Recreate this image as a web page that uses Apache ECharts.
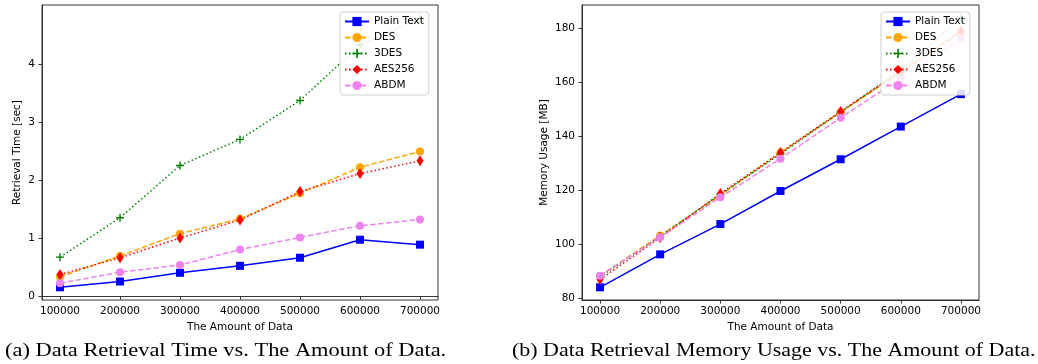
<!DOCTYPE html>
<html>
<head>
<meta charset="utf-8">
<script src="https://cdn.jsdelivr.net/npm/echarts@6/dist/echarts.min.js"></script>
<style>
html,body{margin:0;padding:0;background:#fff;}
#c{width:1038px;height:364px;}
</style>
</head>
<body>
<div id="c"></div>
<script>
// ---- data ----
const amounts = [100000, 200000, 300000, 400000, 500000, 600000, 700000];
const seriesNames = ['Plain Text', 'DES', '3DES', 'AES256', 'ABDM'];
const xTicks = [100000, 200000, 300000, 400000, 500000, 600000, 700000];

// (a) Retrieval time [sec]
const timePlain  = [0.15, 0.25, 0.40, 0.52, 0.66, 0.97, 0.885];
const timeDES    = [0.33, 0.69, 1.075, 1.33, 1.77, 2.22, 2.49];
const time3DES   = [0.67, 1.35, 2.25, 2.70, 3.37, 4.33, 4.78];
const timeAES    = [0.37, 0.66, 1.00, 1.31, 1.80, 2.11, 2.33];
const timeABDM   = [0.22, 0.41, 0.535, 0.80, 1.01, 1.21, 1.32];
const timeTicks  = [0, 1, 2, 3, 4];

// (b) Memory usage [MB]
const memPlain = [84.1, 96.3, 107.5, 119.75, 131.5, 143.6, 155.6];
const memDES   = [88.3, 103.3, 118.1, 134.0, 148.9, 163.7, 178.5];
const mem3DES  = [88.0, 103.0, 118.5, 133.5, 149.0, 164.5, 183.7];
const memAES   = [87.0, 102.5, 118.8, 134.0, 149.2, 164.0, 179.0];
const memABDM  = [88.4, 102.6, 117.4, 131.7, 146.9, 161.5, 176.0];
const memTicks = [80, 100, 120, 140, 160, 180];

const captionA = '(a) Data Retrieval Time vs. The Amount of Data.';
const captionB = '(b) Data Retrieval Memory Usage vs. The Amount of Data.';

// ---- styles ----
const styles = {
  'Plain Text': {color: '#0000ff', type: 'solid',  symbol: 'rect',    size: 8},
  'DES':        {color: '#ffa500', type: [5.5, 2.4], symbol: 'circle', size: 8},
  '3DES':       {color: '#008000', type: [1.5, 2.5], symbol: 'path://M3.3 0H4.7V3.3H8V4.7H4.7V8H3.3V4.7H0V3.3H3.3Z', size: 8},
  'AES256':     {color: '#ff0000', type: [1.5, 2.5], symbol: 'diamond', size: [7, 11]},
  'ABDM':       {color: '#ee82ee', type: [5.5, 2.4], symbol: 'circle',  size: 8}
};

function mk(name, vals, idx) {
  const s = styles[name];
  return {
    name: name, type: 'line', xAxisIndex: idx, yAxisIndex: idx,
    data: amounts.map((a, i) => [a, vals[i]]),
    symbol: s.symbol, symbolSize: s.size, showSymbol: true,
    lineStyle: {color: s.color, width: 1.5, type: s.type},
    itemStyle: {color: s.color, borderWidth: 0},
    emphasis: {disabled: true}, animation: false, z: 2
  };
}

const font = 'DejaVu Sans';
function xAxis(idx) {
  return {
    type: 'value', gridIndex: idx, min: 70000, max: 730000,
    name: 'The Amount of Data', nameLocation: 'middle', nameGap: 20,
    nameTextStyle: {fontFamily: font, fontSize: 10.5, color: '#000'},
    axisLine: {show: true, lineStyle: {color: '#333', width: 1}},
    axisTick: {show: true, inside: false, length: 3.5, lineStyle: {color: '#333'}, customValues: xTicks},
    axisLabel: {fontFamily: font, fontSize: 10.5, color: '#000', margin: 6, customValues: xTicks,
                formatter: v => String(v)},
    splitLine: {show: false}
  };
}
function yAxis(idx, min, max, ticks, name, gap) {
  return {
    type: 'value', gridIndex: idx, min: min, max: max,
    name: name, nameLocation: 'middle', nameGap: gap, nameRotate: 90,
    nameTextStyle: {fontFamily: font, fontSize: 10.5, color: '#000'},
    axisLine: {show: true, lineStyle: {color: '#333', width: 1}},
    axisTick: {show: true, inside: false, length: 3.5, lineStyle: {color: '#333'}, customValues: ticks},
    axisLabel: {fontFamily: font, fontSize: 10.5, color: '#000', margin: 7, customValues: ticks,
                formatter: v => String(v)},
    splitLine: {show: false}
  };
}
function legend(left) {
  return {
    data: seriesNames, orient: 'vertical', left: left, top: 12,
    backgroundColor: 'rgba(255,255,255,0.85)', borderColor: '#d0d0d0', borderWidth: 1, borderRadius: 3,
    padding: [4, 5, 4, 4], itemGap: 5, itemWidth: 24, itemHeight: 11.5,
    textStyle: {fontFamily: font, fontSize: 10.5, color: '#000', padding: [0, 0, 0, 0]},
    selectedMode: false, z: 10
  };
}

const chart = echarts.init(document.getElementById('c'), null, {renderer: 'canvas'});
chart.setOption({
  animation: false,
  backgroundColor: '#fff',
  grid: [
    {left: 42, right: 600, top: 5, bottom: 64, show: true, borderColor: '#333', borderWidth: 1, backgroundColor: 'transparent'},
    {left: 582, right: 59, top: 5, bottom: 64, show: true, borderColor: '#333', borderWidth: 1, backgroundColor: 'transparent'}
  ],
  xAxis: [xAxis(0), xAxis(1)],
  yAxis: [
    yAxis(0, -0.069, 5.017, timeTicks, 'Retrieval Time [sec]', 19),
    yAxis(1, 79.4, 188.6, memTicks, 'Memory Usage [MB]', 32)
  ],
  legend: [legend(340), legend(881)],
  series: [
    mk('Plain Text', timePlain, 0), mk('DES', timeDES, 0), mk('3DES', time3DES, 0), mk('AES256', timeAES, 0), mk('ABDM', timeABDM, 0),
    mk('Plain Text', memPlain, 1), mk('DES', memDES, 1), mk('3DES', mem3DES, 1), mk('AES256', memAES, 1), mk('ABDM', memABDM, 1)
  ],
  graphic: [
    {type: 'text', x: 5, y: 342, scaleX: 1.18, style: {text: captionA, font: '19px "Liberation Serif"', fill: '#000'}},
    {type: 'text', x: 512, y: 342, scaleX: 1.155, style: {text: captionB, font: '19px "Liberation Serif"', fill: '#000'}}
  ]
});
</script>
</body>
</html>
